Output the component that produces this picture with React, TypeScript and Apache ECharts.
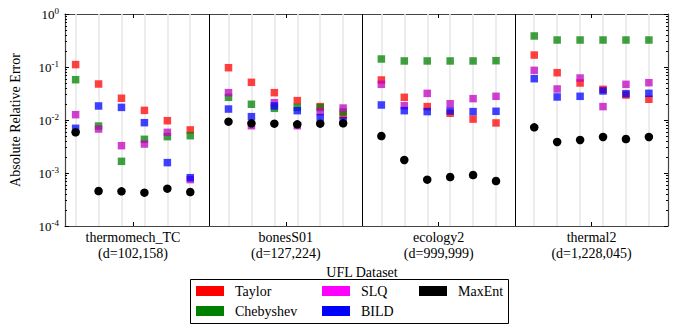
import React, { useEffect, useRef } from 'react';
import * as echarts from 'echarts';

// Datasets (x-axis groups)
const datasetNames = ['thermomech_TC', 'bonesS01', 'ecology2', 'thermal2'];
const datasetDims = ['(d=102,158)', '(d=127,224)', '(d=999,999)', '(d=1,228,045)'];
const pointsPerGroup = 6;

// Absolute relative error per method; 6 values per dataset, datasets in order above
const taylor = [
  0.111, 0.0478, 0.0257, 0.0152, 0.0097, 0.0065,
  0.097, 0.0514, 0.0328, 0.0232, 0.0179, 0.0124,
  0.0569, 0.0268, 0.0179, 0.0134, 0.0104, 0.0088,
  0.168, 0.078, 0.0499, 0.0379, 0.0296, 0.0246,
];
const chebyshev = [
  0.0576, 0.0077, 0.00166, 0.00432, 0.00485, 0.00506,
  0.0268, 0.0198, 0.0166, 0.0173, 0.0172, 0.0142,
  0.1416, 0.13, 0.13, 0.13, 0.13, 0.1315,
  0.385, 0.323, 0.323, 0.323, 0.323, 0.323,
];
const slq = [
  0.0126, 0.00676, 0.00328, 0.00352, 0.00585, 0.00075,
  0.0328, 0.0078, 0.0212, 0.0078, 0.0144, 0.0168,
  0.0471, 0.0186, 0.0318, 0.0203, 0.0253, 0.028,
  0.0865, 0.0385, 0.062, 0.0179, 0.0471, 0.0506,
];
const bild = [
  0.00697, 0.0184, 0.0173, 0.0089, 0.00157, 0.000816,
  0.0161, 0.01155, 0.0184, 0.015, 0.0111, 0.0097,
  0.0192, 0.015, 0.0144, 0.0148, 0.0144, 0.0146,
  0.0602, 0.0272, 0.028, 0.0353, 0.0314, 0.0319,
];
const maxent = [
  0.00586, 0.000457, 0.000451, 0.000426, 0.000506, 0.000438,
  0.0093, 0.00865, 0.00853, 0.00828, 0.00853, 0.00865,
  0.00499, 0.00176, 0.000748, 0.00084, 0.000916, 0.000706,
  0.00728, 0.00385, 0.0042, 0.00478, 0.00438, 0.00478,
];

const yMajorTicks = [1e-4, 1e-3, 1e-2, 1e-1, 1];

const FONT = 'Liberation Serif';
const GROUP_W = 20 / 3;
const COL_OFF = 5 / 6;
const X_MIN = 0.37;
const X_MAX = GROUP_W * datasetNames.length;

const colX = (k: number) => {
  const g = Math.floor(k / pointsPerGroup);
  const i = k % pointsPerGroup;
  return g * GROUP_W + COL_OFF + i;
};
const toPoints = (arr: number[]) => arr.map((v, k) => [colX(k), v]);

const groupCenters = datasetNames.map((_, g) => g * GROUP_W + GROUP_W / 2);
const separators = datasetNames.slice(1).map((_, g) => (g + 1) * GROUP_W);
const columnLines = taylor.map((_, k) => colX(k));
const yMinorTicks: number[] = [];
for (let e = -4; e < 0; e++) for (let m = 2; m <= 9; m++) yMinorTicks.push(m * Math.pow(10, e));

export default function App() {
  const ref = useRef<HTMLDivElement>(null);
  useEffect(() => {
    if (!ref.current) return;
    const chart = echarts.init(ref.current, null, { renderer: 'svg' });
    const axisLineStyle = { color: '#444', width: 1.2 };
    const scatter = (name: string, data: number[], color: string, symbol: string, size: number, opacity: number) => ({
      name,
      type: 'scatter',
      data: toPoints(data),
      symbol,
      symbolSize: size,
      itemStyle: { color, opacity },
      z: 3,
    });
    const legendBase = {
      orient: 'vertical',
      top: 283,
      itemWidth: 28,
      itemHeight: 10,
      itemGap: 4,
      padding: 0,
      icon: 'rect',
      selectedMode: false,
      textStyle: { fontFamily: FONT, fontSize: 14, color: '#000', lineHeight: 16, padding: [0, 0, 0, 6] },
    };
    const yBase = {
      type: 'log',
      min: 1e-4,
      max: 1,
      logBase: 10,
      splitLine: { show: false },
    };
    chart.setOption({
      animation: false,
      backgroundColor: '#fff',
      textStyle: { fontFamily: FONT },
      grid: { left: 64, right: 7, top: 14, bottom: 104, containLabel: false },
      xAxis: [
        {
          type: 'value',
          min: X_MIN,
          max: X_MAX,
          position: 'bottom',
          axisLine: { show: true, lineStyle: axisLineStyle },
          axisTick: { show: true, inside: true, length: 4, customValues: groupCenters, lineStyle: { color: '#000' } },
          splitLine: { show: false },
          axisLabel: {
            customValues: groupCenters,
            margin: 3,
            fontFamily: FONT,
            fontSize: 14,
            lineHeight: 16,
            color: '#000',
            formatter: (v: number) => {
              const g = Math.round((v - GROUP_W / 2) / GROUP_W);
              return `${datasetNames[g]}\n${datasetDims[g]}`;
            },
          },
          name: 'UFL Dataset',
          nameLocation: 'middle',
          nameGap: 33,
          nameTextStyle: { fontFamily: FONT, fontSize: 14, color: '#000', padding: [0, 9, 0, 0] },
        },
        {
          type: 'value',
          min: X_MIN,
          max: X_MAX,
          position: 'top',
          axisLine: { show: true, lineStyle: axisLineStyle },
          axisTick: { show: true, inside: true, length: 4, customValues: groupCenters, lineStyle: { color: '#000' } },
          axisLabel: { show: false },
          splitLine: { show: false },
        },
      ],
      yAxis: [
        {
          ...yBase,
          position: 'left',
          axisLine: { show: true, lineStyle: axisLineStyle },
          axisTick: { show: true, inside: true, length: 4, customValues: yMajorTicks, lineStyle: { color: '#000' } },
          axisLabel: {
            customValues: yMajorTicks,
            margin: 6,
            color: '#000',
            formatter: (v: number) => `{base|10}{sup|${Math.round(Math.log10(v))}}`,
            rich: {
              base: { fontFamily: FONT, fontSize: 13, color: '#000' },
              sup: { fontFamily: FONT, fontSize: 9, color: '#000', padding: [0, 0, 7, 0] },
            },
          },
          name: 'Absolute Relative Error',
          nameLocation: 'middle',
          nameGap: 43,
          nameTextStyle: { fontFamily: FONT, fontSize: 14, color: '#000' },
        },
        {
          ...yBase,
          position: 'left',
          axisLine: { show: false },
          axisTick: { show: true, inside: true, length: 2, customValues: yMinorTicks, lineStyle: { color: '#000' } },
          axisLabel: { show: false },
        },
        {
          ...yBase,
          position: 'right',
          axisLine: { show: true, lineStyle: axisLineStyle },
          axisTick: { show: true, inside: true, length: 4, customValues: yMajorTicks, lineStyle: { color: '#000' } },
          axisLabel: { show: false },
        },
        {
          ...yBase,
          position: 'right',
          axisLine: { show: false },
          axisTick: { show: true, inside: true, length: 2, customValues: yMinorTicks, lineStyle: { color: '#000' } },
          axisLabel: { show: false },
        },
      ],
      legend: [
        { ...legendBase, left: 196, data: [
          { name: 'Taylor', itemStyle: { color: '#ff0000', opacity: 1 } },
          { name: 'Chebyshev', itemStyle: { color: '#008000', opacity: 1 } },
        ] },
        { ...legendBase, left: 322, data: [
          { name: 'SLQ', itemStyle: { color: '#ff00ff', opacity: 1 } },
          { name: 'BILD', itemStyle: { color: '#0000ff', opacity: 1 } },
        ] },
        { ...legendBase, left: 419, data: [
          { name: 'MaxEnt', itemStyle: { color: '#000000', opacity: 1 } },
        ] },
      ],
      graphic: [
        {
          type: 'rect',
          x: 190.5,
          y: 279.5,
          shape: { x: 0, y: 0, width: 318, height: 44 },
          style: { fill: 'none', stroke: '#000', lineWidth: 1 },
          silent: true,
        },
      ],
      series: [
        {
          name: '_grid',
          type: 'scatter',
          data: [],
          silent: true,
          markLine: {
            silent: true,
            z: 1,
            symbol: ['none', 'none'],
            label: { show: false },
            lineStyle: { color: '#e9e9e9', width: 1.6, type: 'solid', opacity: 1 },
            emphasis: { disabled: true },
            data: columnLines.map((v) => ({ xAxis: v })),
          },
        },
        {
          name: '_sep',
          type: 'scatter',
          data: [],
          silent: true,
          markLine: {
            silent: true,
            z: 2,
            symbol: ['none', 'none'],
            label: { show: false },
            lineStyle: { color: '#000', width: 1, type: 'solid', opacity: 1 },
            emphasis: { disabled: true },
            data: separators.map((v) => ({ xAxis: v })),
          },
        },
        scatter('Taylor', taylor, '#ff0000', 'rect', 7.5, 0.75),
        scatter('Chebyshev', chebyshev, '#008000', 'rect', 7.5, 0.75),
        scatter('SLQ', slq, '#bf00bf', 'rect', 7.5, 0.75),
        scatter('BILD', bild, '#0000ff', 'rect', 7.5, 0.75),
        scatter('MaxEnt', maxent, '#000000', 'circle', 8.5, 1),
      ],
    });
    return () => chart.dispose();
  }, []);
  return (
    <div
      ref={ref}
      style={{ position: 'fixed', left: 0, top: 0, width: 675, height: 330, background: '#fff' }}
    />
  );
}
